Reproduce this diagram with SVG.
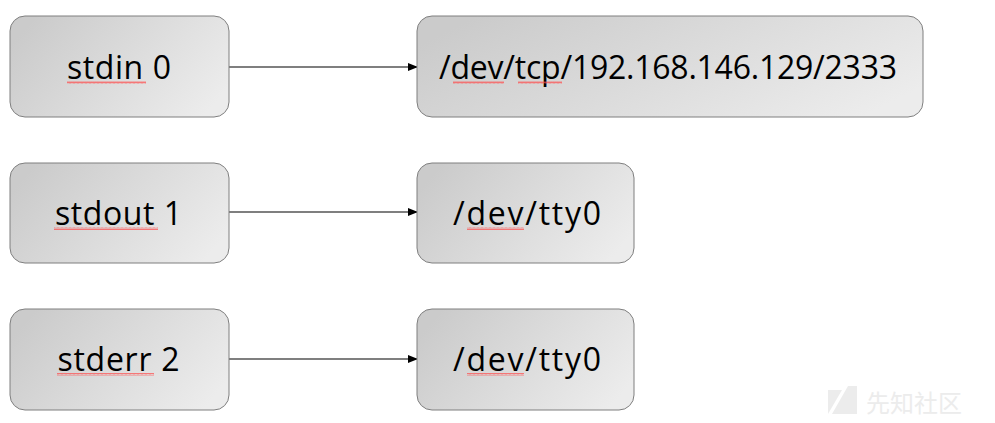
<svg xmlns="http://www.w3.org/2000/svg" width="995" height="423" viewBox="0 0 995 423">
<defs>
<linearGradient id="g" x1="0" y1="0.3" x2="1" y2="0.7">
<stop offset="0" stop-color="#cbcbcb"/>
<stop offset="1" stop-color="#ececec"/>
</linearGradient>
<marker id="ah" markerWidth="10" markerHeight="8" refX="9" refY="4" orient="auto" markerUnits="userSpaceOnUse">
<path d="M0,0 L10,4 L0,8 z" fill="#000"/>
</marker>
<pattern id="sq" width="4" height="3" patternUnits="userSpaceOnUse">
<path d="M0,2.5 L1,0.5 L2,2.5 L3,0.5 L4,2.5" fill="none" stroke="#ff4a4a" stroke-width="0.7"/>
</pattern>
</defs>
<style>
.box{fill:url(#g);stroke:#7f7f7f;stroke-width:1}
.lbl{font-family:"Open Sans","Liberation Sans",sans-serif;font-size:32px;fill:#000;text-anchor:middle}
.conn{stroke:#000;stroke-width:1.2;fill:none;marker-end:url(#ah)}
.wm{font-family:"Noto Sans CJK SC",sans-serif;font-size:24px;fill:#ececec}
</style>
<g id="connectors">
<line class="conn" x1="229" y1="67" x2="417" y2="67"/>
<line class="conn" x1="229" y1="212" x2="417" y2="212"/>
<line class="conn" x1="229" y1="359" x2="417" y2="359"/>
</g>
<g id="stdin">
<rect class="box" x="10" y="16" width="219" height="101" rx="15"/>
<text class="lbl" x="119" y="79" textLength="104">stdin 0</text>
<rect x="67" y="81" width="79" height="3" fill="url(#sq)"/>
</g>
<g id="tcp">
<rect class="box" x="417" y="16" width="506" height="101" rx="15"/>
<text class="lbl" x="668" y="79" textLength="458">/dev/tcp/192.168.146.129/2333</text>
<rect x="453" y="81" width="51" height="3" fill="url(#sq)"/>
<rect x="518" y="81" width="44" height="3" fill="url(#sq)"/>
</g>
<g id="stdout">
<rect class="box" x="10" y="163" width="219" height="100" rx="15"/>
<text class="lbl" x="118.5" y="225" textLength="127">stdout 1</text>
<rect x="54" y="227" width="104" height="3" fill="url(#sq)"/>
</g>
<g id="tty0a">
<rect class="box" x="417" y="163" width="217" height="100" rx="15"/>
<text class="lbl" x="527" y="225" textLength="148">/dev/tty0</text>
<rect x="467" y="227" width="57" height="3" fill="url(#sq)"/>
</g>
<g id="stderr">
<rect class="box" x="10" y="309" width="219" height="101" rx="15"/>
<text class="lbl" x="118.5" y="371" textLength="122">stderr 2</text>
<rect x="57" y="373" width="97" height="3" fill="url(#sq)"/>
</g>
<g id="tty0b">
<rect class="box" x="417" y="309" width="217" height="101" rx="15"/>
<text class="lbl" x="527" y="371" textLength="148">/dev/tty0</text>
<rect x="467" y="373" width="57" height="3" fill="url(#sq)"/>
</g>
<g id="watermark">
<polygon points="828,390 842,390 828,414" fill="#ececec"/>
<polygon points="848,386 857,386 857,414 832,414" fill="#ececec"/>
<text class="wm" x="866" y="412">先知社区</text>
</g>
</svg>
